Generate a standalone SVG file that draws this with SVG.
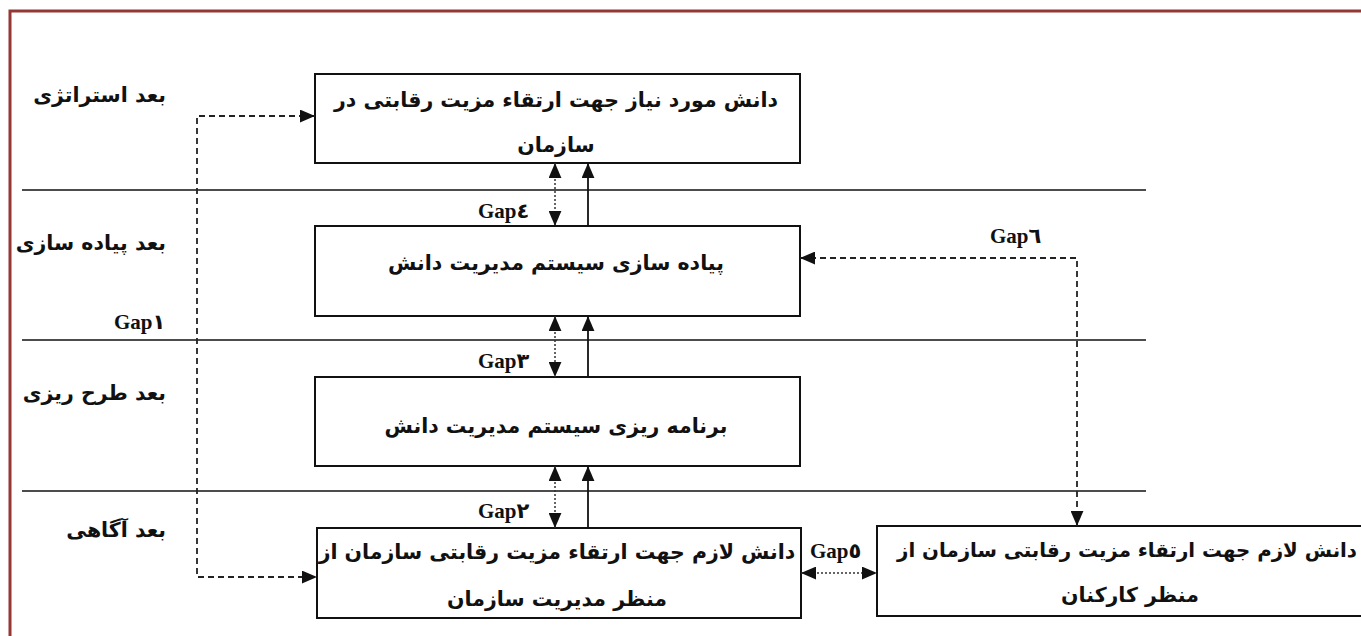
<svg xmlns="http://www.w3.org/2000/svg" width="1361" height="636" viewBox="0 0 1361 636">
<style>
.box{fill:#fff;stroke:#111;stroke-width:2}
.sep{stroke:#111;stroke-width:1.6}
.t{font-family:"DejaVu Sans",sans-serif;font-weight:bold;font-size:20.5px;fill:#111}
.g{font-family:"Liberation Serif","DejaVu Sans",serif;font-weight:bold;font-size:21px;fill:#111}
.dash{fill:none;stroke:#222;stroke-width:1.8;stroke-dasharray:6 4}
.dot{fill:none;stroke:#333;stroke-width:1.5;stroke-dasharray:2 2}
.sol{fill:none;stroke:#111;stroke-width:1.8}
</style>
<defs>
<marker id="ah" viewBox="0 0 14 12" markerWidth="15" markerHeight="13" refX="14" refY="6" orient="auto-start-reverse" markerUnits="userSpaceOnUse">
<path d="M0,0 L14,6 L0,12 z" fill="#111"/>
</marker>
</defs>
<rect width="1361" height="636" fill="#fff"/>
<rect x="10" y="11" width="1400" height="700" fill="none" stroke="#953735" stroke-width="3"/>
<g id="separators">
<line class="sep" x1="22" y1="190" x2="1146" y2="190"/>
<line class="sep" x1="22" y1="340" x2="1146" y2="340"/>
<line class="sep" x1="22" y1="491" x2="1146" y2="491"/>
</g>
<g id="dimension-labels">
<text class="t" x="166" y="102" text-anchor="end">بعد استراتژی</text>
<text class="t" x="166" y="250" text-anchor="end">بعد پیاده سازی</text>
<text class="t" x="166" y="400" text-anchor="end">بعد طرح ریزی</text>
<text class="t" x="166" y="537" text-anchor="end">بعد آگاهی</text>
</g>
<g id="node1">
<rect class="box" x="315" y="74" width="485" height="89"/>
<text class="t" x="556" y="107" text-anchor="middle">دانش مورد نیاز جهت ارتقاء مزیت رقابتی در</text>
<text class="t" x="556" y="152" text-anchor="middle">سازمان</text>
</g>
<g id="node2">
<rect class="box" x="315" y="226" width="485" height="90"/>
<text class="t" x="556" y="270" text-anchor="middle">پیاده سازی سیستم مدیریت دانش</text>
</g>
<g id="node3">
<rect class="box" x="315" y="377" width="485" height="89"/>
<text class="t" x="556" y="433" text-anchor="middle">برنامه ریزی سیستم مدیریت دانش</text>
</g>
<g id="node4">
<rect class="box" x="317" y="528" width="484" height="90"/>
<text class="t" x="557" y="559" text-anchor="middle">دانش لازم جهت ارتقاء مزیت رقابتی سازمان از</text>
<text class="t" x="557" y="606" text-anchor="middle">منظر مدیریت سازمان</text>
</g>
<g id="node5">
<rect class="box" x="877" y="526" width="500" height="90"/>
<text class="t" x="1357" y="557" text-anchor="end" style="font-size:19.8px">دانش لازم جهت ارتقاء مزیت رقابتی سازمان از</text>
<text class="t" x="1130" y="602" text-anchor="middle">منظر کارکنان</text>
</g>
<g id="connectors">
<path class="dash" d="M315,116 H197 V577 H317" marker-start="url(#ah)" marker-end="url(#ah)"/>
<path class="dash" d="M800,258 H1077 V526" marker-start="url(#ah)" marker-end="url(#ah)"/>
<path class="dot" d="M801,573 H877" marker-start="url(#ah)" marker-end="url(#ah)"/>
<path class="dot" d="M555,163 V226" marker-start="url(#ah)" marker-end="url(#ah)"/>
<path class="sol" d="M588,226 V163" marker-end="url(#ah)"/>
<path class="dot" d="M555,316 V377" marker-start="url(#ah)" marker-end="url(#ah)"/>
<path class="sol" d="M588,377 V316" marker-end="url(#ah)"/>
<path class="dot" d="M555,466 V528" marker-start="url(#ah)" marker-end="url(#ah)"/>
<path class="sol" d="M588,528 V466" marker-end="url(#ah)"/>
</g>
<g id="gap-labels">
<text class="g" x="478" y="218">Gap٤</text>
<text class="g" x="478" y="368">Gap٣</text>
<text class="g" x="478" y="518">Gap٢</text>
<text class="g" x="114" y="329">Gap١</text>
<text class="g" x="810" y="558">Gap٥</text>
<text class="g" x="990" y="243">Gap٦</text>
</g>
</svg>
